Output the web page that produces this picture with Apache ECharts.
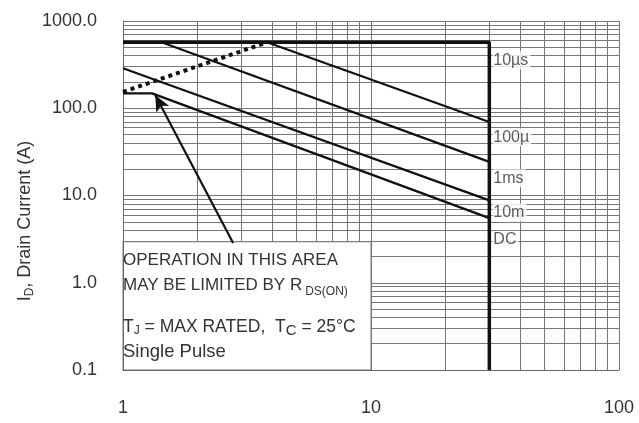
<!DOCTYPE html>
<html>
<head>
<meta charset="utf-8">
<script src="https://cdn.jsdelivr.net/npm/echarts@6/dist/echarts.min.js"></script>
<style>
  html, body { margin: 0; padding: 0; background: #fff; }
  #chart { width: 639px; height: 423px; }
</style>
</head>
<body>
<div id="chart"></div>
<script>
// axis ticks
var xTicks = [1, 10, 100];
var yTicks = [0.1, 1, 10, 100, 1000];
var minorSteps = [2, 3, 4, 5, 6, 7, 8, 9];

// SOA curves, [V_DS, I_D]
var limit10us  = [[1, 570], [30, 570], [30, 0.1]];
var rdsLimit   = [[1, 154], [3.81, 570]];
var curve100us = [[3.81, 570], [30, 69.6]];
var curve1ms   = [[1.43, 570], [30, 24.3]];
var curve10ms  = [[1, 287], [30, 8.8]];
var curveDC    = [[1, 148], [1.31, 148], [30, 5.5]];

// curve labels at the 30 V edge
var curveNames  = ['10µs', '100µ', '1ms', '10m', 'DC'];
var curveLabelV = [30, 30, 30, 30, 30];
var curveLabelI = [355, 46.5, 15.8, 6.4, 3.1];

// annotation
var arrowFrom = [2.78, 2.85];
var arrowTo   = [1.35, 141];
var noteBox   = [[1, 0.1], [10, 2.95]];

function gridValues(ticks) {
  var out = [];
  for (var i = 0; i < ticks.length; i++) {
    out.push(ticks[i]);
    if (i < ticks.length - 1) {
      minorSteps.forEach(function (m) { out.push(+(ticks[i] * m).toPrecision(3)); });
    }
  }
  return out;
}

var gridLines = [];
gridValues(xTicks).forEach(function (v) { gridLines.push({ xAxis: v }); });
gridValues(yTicks).forEach(function (v) { gridLines.push({ yAxis: v }); });

var FONT = 'Liberation Sans';
var TXT = '#333';

var myChart = echarts.init(document.getElementById('chart'));

function curve(data, width, dash) {
  return {
    type: 'line',
    data: data,
    symbol: 'none',
    silent: true,
    z: 6,
    lineStyle: { color: '#111', width: width, type: dash || 'solid', cap: 'butt' }
  };
}

function note(y, text, size, rich) {
  return {
    type: 'text',
    x: 123,
    y: y,
    z: 10,
    style: {
      text: text,
      font: size + 'px "' + FONT + '"',
      fill: TXT,
      rich: rich
    }
  };
}

var option = {
  backgroundColor: '#fff',
  animation: false,
  grid: { left: 123, right: 20, top: 21, bottom: 53 },
  xAxis: {
    type: 'log',
    logBase: 10,
    min: 1,
    max: 100,
    z: 4,
    axisLine: { show: true, lineStyle: { color: '#666', width: 1 } },
    axisTick: { show: false },
    splitLine: { show: false },
    axisLabel: {
      margin: 29,
      color: TXT,
      fontFamily: FONT,
      fontSize: 18,
      formatter: function (v) { return String(+v.toPrecision(3)); }
    }
  },
  yAxis: {
    type: 'log',
    logBase: 10,
    min: 0.1,
    max: 1000,
    z: 4,
    axisLine: { show: true, lineStyle: { color: '#666', width: 1 } },
    axisTick: { show: false },
    splitLine: { show: false },
    axisLabel: {
      margin: 26,
      color: TXT,
      fontFamily: FONT,
      fontSize: 18,
      formatter: function (v) { return (+v).toFixed(1); }
    }
  },
  series: [
    {
      // grid lines
      type: 'line',
      data: [],
      z: 1,
      silent: true,
      markLine: {
        z: 1,
        silent: true,
        symbol: 'none',
        label: { show: false },
        lineStyle: { color: '#777', width: 1, type: 'solid' },
        emphasis: { disabled: true },
        data: gridLines
      }
    },
    {
      // white note box
      type: 'line',
      data: [],
      z: 2,
      silent: true,
      markArea: {
        z: 2,
        silent: true,
        itemStyle: { color: '#fff', borderColor: '#777', borderWidth: 1 },
        data: [[{ coord: noteBox[0] }, { coord: noteBox[1] }]]
      }
    },
    curve(limit10us, 3.5),
    curve(rdsLimit, 4, [4, 4]),
    curve(curve100us, 2.2),
    curve(curve1ms, 2.2),
    curve(curve10ms, 2.2),
    curve(curveDC, 2.2),
    {
      type: 'line',
      data: [],
      z: 6,
      silent: true,
      markLine: {
        z: 6,
        silent: true,
        symbol: ['none', 'arrow'],
        symbolSize: [11, 16],
        label: { show: false },
        lineStyle: { color: '#111', width: 2.2, type: 'solid' },
        emphasis: { disabled: true },
        data: [[{ coord: arrowFrom }, { coord: arrowTo }]]
      }
    },
    {
      type: 'scatter',
      z: 7,
      silent: true,
      symbolSize: 0,
      data: curveNames.map(function (n, i) { return { name: n, value: [curveLabelV[i], curveLabelI[i]] }; }),
      label: {
        show: true,
        position: 'right',
        distance: 3,
        formatter: '{b}',
        color: TXT,
        fontFamily: FONT,
        fontSize: 16,
        backgroundColor: '#fff',
        padding: [1, 2, 1, 1]
      }
    }
  ],
  graphic: [
    {
      type: 'text',
      x: 25,
      y: 221,
      z: 10,
      rotation: Math.PI / 2,
      style: {
        text: 'I{s|D}, Drain Current (A)',
        font: '18px "' + FONT + '"',
        fill: TXT,
        align: 'center',
        verticalAlign: 'middle',
        rich: { s: { fontSize: 12, fontFamily: FONT, fill: TXT, padding: [10, 0, 0, 0] } }
      }
    },
    note(252, 'OPERATION IN THIS AREA', 17),
    note(273, 'MAY BE LIMITED BY R{s|DS(ON)}', 17,
      { s: { fontSize: 12, fontFamily: FONT, fill: TXT, padding: [13, 0, 0, 3] } }),
    note(316, 'T{s|J} = MAX RATED,  T{c|C} = 25°C', 17.5, {
      s: { fontSize: 12, fontFamily: FONT, fill: TXT, padding: [8, 0, 0, 0] },
      c: { fontSize: 15, fontFamily: FONT, fill: TXT, padding: [7, 0, 0, 0] }
    }),
    note(342, 'Single Pulse', 18.5)
  ]
};

myChart.setOption(option);
window.onresize = myChart.resize;
</script>
</body>
</html>
